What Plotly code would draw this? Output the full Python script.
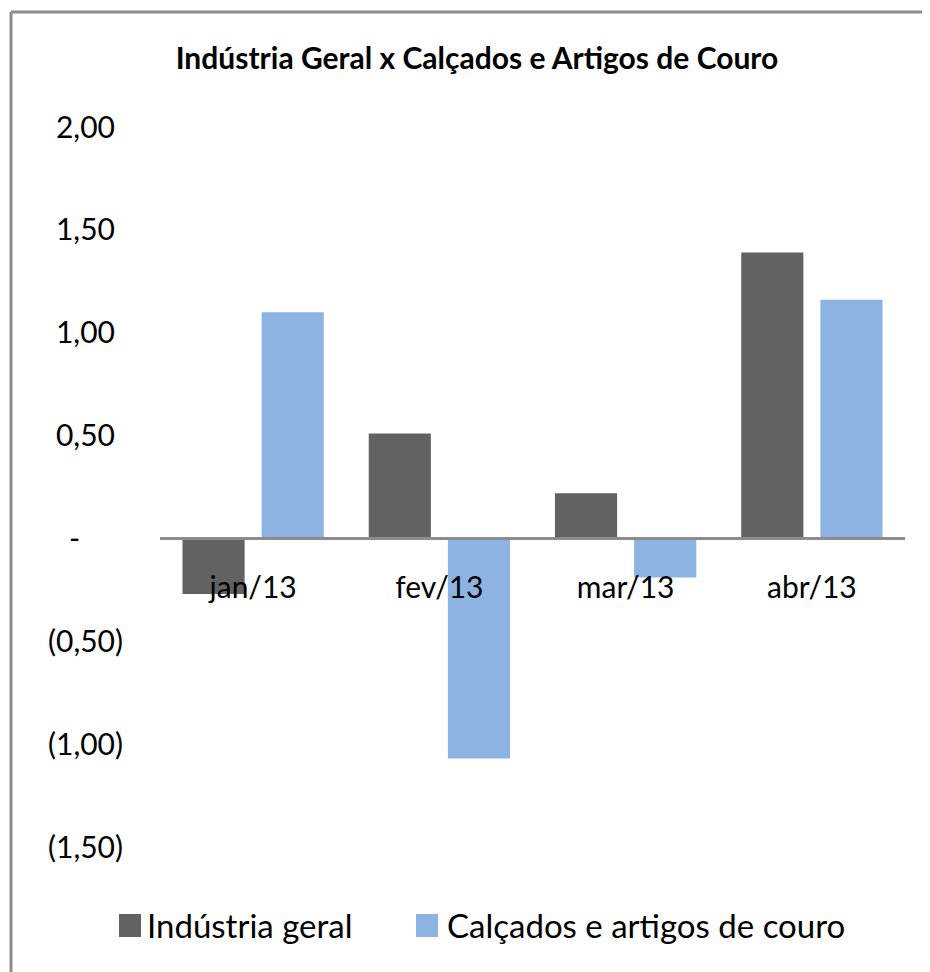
import plotly.graph_objects as go

categories = ["jan/13", "fev/13", "mar/13", "abr/13"]
industria_geral = [-0.27, 0.51, 0.22, 1.39]
calcados = [1.10, -1.07, -0.19, 1.16]
series_names = ["Indústria geral", "Calçados e artigos de couro"]
series_colors = ["#626262", "#8DB3E2"]
tick_vals = [2.0, 1.5, 1.0, 0.5, 0.0, -0.5, -1.0, -1.5]
title_text = "Indústria Geral x Calçados e Artigos de Couro"

OFF = 8  # page body margin
PAGE_W, PAGE_H = 930, 972
W, H = PAGE_W - OFF, PAGE_H - OFF
# desired plot area in page pixels
PL, PR, PT, PB = 160, 905, 127, 847
ML, MT = PL - OFF, PT - OFF
MR, MB = W - (PR - OFF), H - (PB - OFF)
PW, PH = W - ML - MR, H - MT - MB

FONT = "Lato"
HID = "<span style='color:rgba(0,0,0,0)'>%s</span>"


def fmt(v):
    if v == 0:
        return "-" + HID % "00)"
    s = f"{abs(v):.2f}".replace(".", ",")
    return f"({s})" if v < 0 else s + HID % ")"


tick_text = [fmt(v) for v in tick_vals]

fig = go.Figure()
for name, vals, col in zip(series_names, [industria_geral, calcados], series_colors):
    fig.add_trace(go.Bar(x=categories, y=vals, name=name, marker_color=col,
                         marker_line_width=0, showlegend=False))


def px_x(p):  # page px -> paper
    return (p - OFF - ML) / PW


def px_y(p):
    return (H - MB - (p - OFF)) / PH


ymin, ymax = -1.5, 2.0
zero_pos = (0 - ymin) / (ymax - ymin)

shapes = []
annotations = []
legend_items = [(119, 148), (416, 448)]
for (sx, tx), name, col in zip(legend_items, series_names, series_colors):
    shapes.append(dict(type="rect", xref="paper", yref="paper",
                       x0=px_x(sx), x1=px_x(sx + 22), y0=px_y(937), y1=px_y(914),
                       fillcolor=col, line_width=0))
    annotations.append(dict(text=name, xref="paper", yref="paper",
                            x=px_x(tx - 3), y=px_y(925), xanchor="left", yanchor="middle",
                            showarrow=False, font=dict(family=FONT, size=33, color="#000")))

# chart border (left + top visible)
shapes.append(dict(type="line", xref="paper", yref="paper",
                   x0=px_x(11), x1=px_x(PAGE_W + 10), y0=px_y(12), y1=px_y(12),
                   line=dict(color="#8C8C8C", width=3)))
shapes.append(dict(type="line", xref="paper", yref="paper",
                   x0=px_x(11), x1=px_x(11), y0=px_y(12), y1=px_y(PAGE_H + 10),
                   line=dict(color="#8C8C8C", width=3)))

fig.update_layout(
    width=W, height=H,
    margin=dict(l=ML, r=MR, t=MT, b=MB),
    paper_bgcolor="white", plot_bgcolor="white",
    barmode="group", bargap=0.15, bargroupgap=0.215,
    title=dict(text="<b>" + title_text + "</b>", x=(477 - OFF) / W, xref="container",
               y=1 - (58 - OFF) / H, yref="container", xanchor="center", yanchor="middle",
               font=dict(family=FONT, size=30, color="#000")),
    font=dict(family=FONT, color="#000"),
    xaxis=dict(anchor="free", position=zero_pos, showline=True, linecolor="#8C8C8C",
               linewidth=3, showgrid=False, ticks="", ticklabelstandoff=22,
               tickfont=dict(family=FONT, size=30, color="#000"), layer="above traces"),
    yaxis=dict(range=[ymin, ymax], tickvals=tick_vals, ticktext=tick_text,
               showgrid=False, zeroline=False, showline=False, ticks="",
               ticklabelstandoff=36, tickfont=dict(family=FONT, size=30, color="#000")),
    shapes=shapes, annotations=annotations,
)

fig.write_html("out.html")
